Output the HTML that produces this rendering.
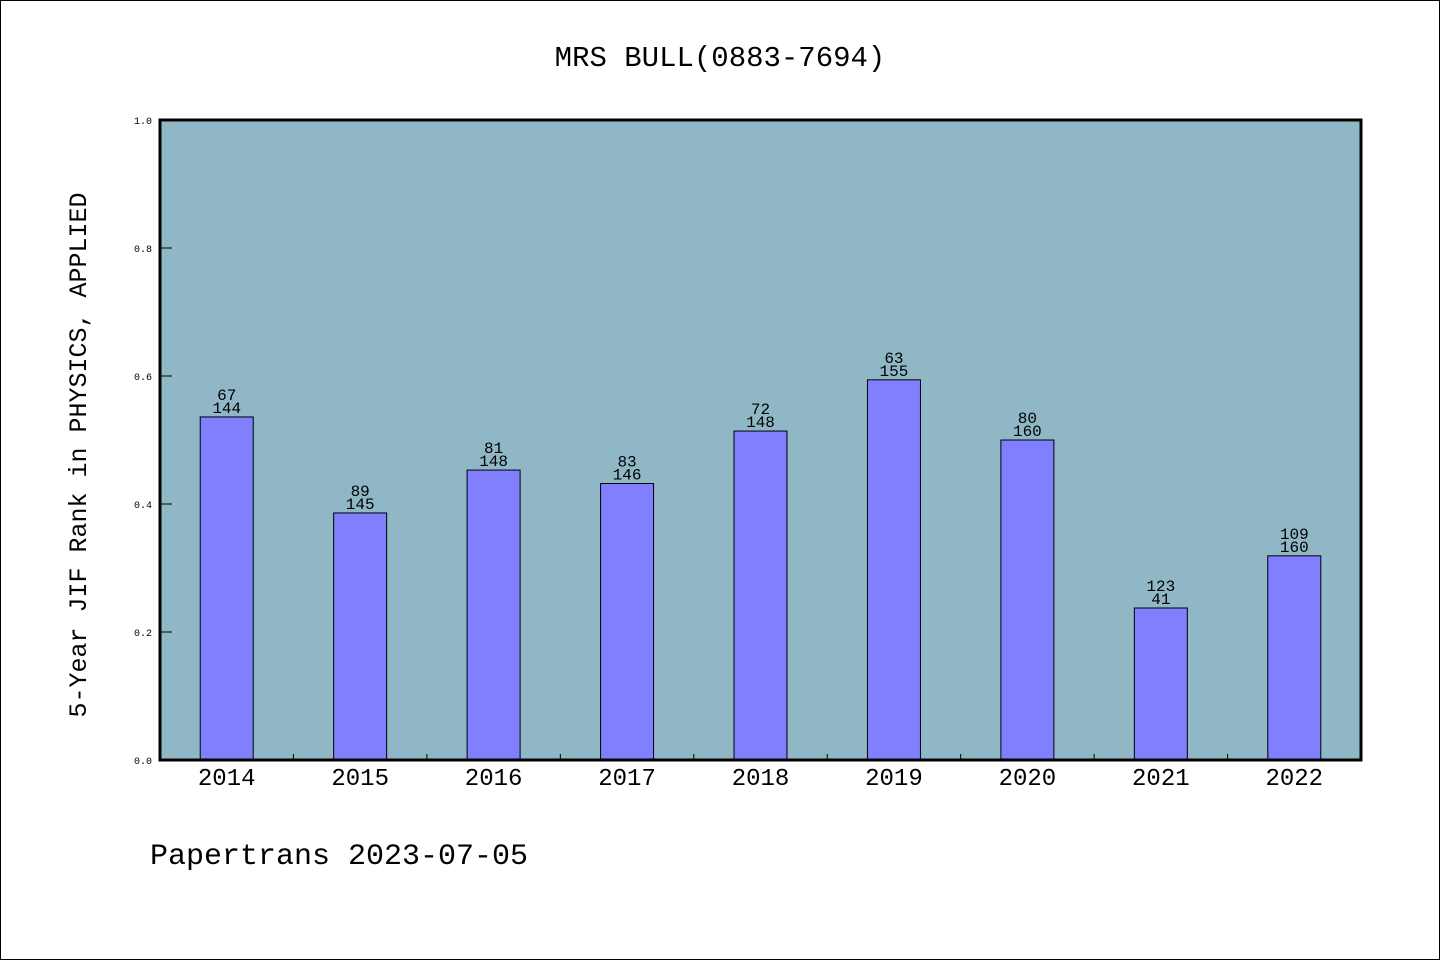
<!DOCTYPE html>
<html><head><meta charset="utf-8"><style>
html,body{margin:0;padding:0;background:#fff}
svg{display:block}
text{font-family:"WenQuanYi Zen Hei","Liberation Mono",monospace;fill:#000}
</style></head><body>
<svg id="chart" width="1440" height="960" viewBox="0 0 1440 960">
<rect x="0.5" y="0.5" width="1439" height="959" fill="#fff" stroke="#000" stroke-width="1"/>
<text x="720" y="66" font-size="29" text-anchor="middle">MRS BULL(0883-7694)</text>
<rect x="160" y="120" width="1201" height="640" fill="#8fb7c6"/>
<g id="bars"></g>
<g id="axes"></g>
<rect x="160" y="120" width="1201" height="640" fill="none" stroke="#000" stroke-width="3"/>
<text transform="translate(86,455) rotate(-90)" font-size="25" text-anchor="middle">5-Year JIF Rank in PHYSICS, APPLIED</text>
<text x="150" y="864" font-size="30">Papertrans 2023-07-05</text>
</svg>
<script>
const categories = ["2014","2015","2016","2017","2018","2019","2020","2021","2022"];
const values = [0.536, 0.386, 0.453, 0.432, 0.514, 0.594, 0.500, 0.2375, 0.319];
const ranks = ["67","89","81","83","72","63","80","123","109"];
const totals = ["144","145","148","146","148","155","160","41","160"];
const yTicks = [0, 0.2, 0.4, 0.6, 0.8, 1.0];

const NS = "http://www.w3.org/2000/svg";
const X0 = 160, X1 = 1361, Y0 = 760, Y1 = 120;
const step = (X1 - X0) / categories.length;
const xCenter = i => X0 + step * (i + 0.5);
const yScale = v => Y0 - v * (Y0 - Y1);
function mk(tag, attrs, parent){const e=document.createElementNS(NS,tag);for(const k in attrs)e.setAttribute(k,attrs[k]);parent.appendChild(e);return e;}
const bars = document.getElementById('bars');
const axes = document.getElementById('axes');
const bw = 53;
categories.forEach((c,i)=>{
  const cx = xCenter(i), top = yScale(values[i]);
  const r = mk('rect',{x:cx-bw/2,y:top,width:bw,height:Y0-top,fill:'#8080ff',stroke:'#000','stroke-width':1},bars);
  
  
  const t1 = mk('text',{x:cx,y:top-17,'font-size':16,'text-anchor':'middle'},bars);
  t1.textContent = ranks[i];
  
  
  const t2 = mk('text',{x:cx,y:top-4,'font-size':16,'text-anchor':'middle'},bars);
  t2.textContent = totals[i];
  
  
  const xl = mk('text',{x:cx,y:785,'font-size':24,'text-anchor':'middle'},axes);
  xl.textContent = c;
  
  
  if(i>0){
    const tk = mk('line',{x1:X0+step*i,x2:X0+step*i,y1:Y0,y2:Y0-6,stroke:'#000','stroke-width':1},axes);
    
    
  }
});
yTicks.forEach(v=>{
  const y = yScale(v);
  const tk = mk('line',{x1:X0,x2:X0+12,y1:y,y2:y,stroke:'#000','stroke-width':1},axes);
  
  
  const t = mk('text',{x:152,y:y+4,'font-size':10,'text-anchor':'end'},axes);
  t.textContent = v.toFixed(1);
  
  
});
</script>
</body></html>
